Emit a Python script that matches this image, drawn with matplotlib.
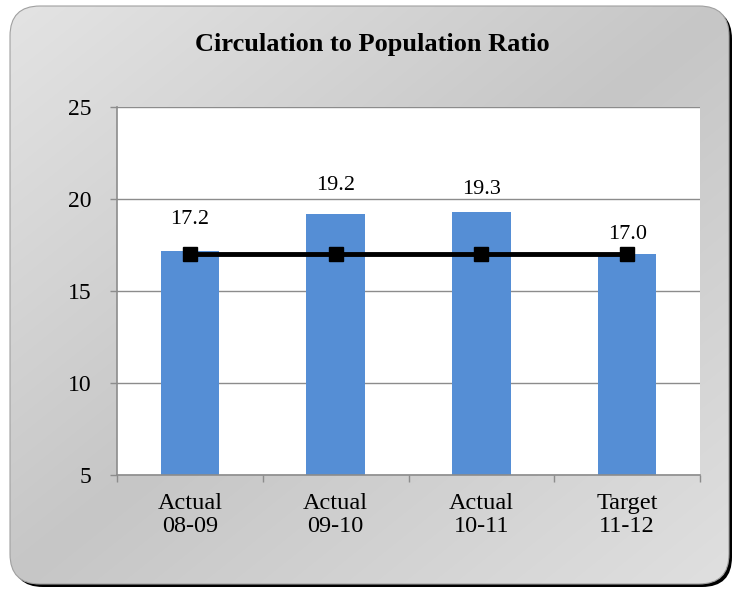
import numpy as np
import matplotlib
matplotlib.use("Agg")
import matplotlib.pyplot as plt
from matplotlib.patches import FancyBboxPatch
from matplotlib.colors import LinearSegmentedColormap

categories = ["Actual\n08-09", "Actual\n09-10", "Actual\n10-11", "Target\n11-12"]
values = [17.2, 19.2, 19.3, 17.0]
target = [17.0, 17.0, 17.0, 17.0]
yticks = [5, 10, 15, 20, 25]
title = "Circulation to Population Ratio"

# label offsets above bar tops (pixels) - styling only
label_offsets_px = [31, 28, 22, 20]

W, H = 736, 589
fig = plt.figure(figsize=(W / 100, H / 100), dpi=100)
plt.rcParams['font.family'] = ['Liberation Serif', 'DejaVu Serif']

# background frame
bg = fig.add_axes([0, 0, 1, 1])
bg.set_xlim(0, W)
bg.set_ylim(H, 0)
bg.axis('off')
x0, y0, x1, y1 = 10, 6, 729, 584
r = 30
shadow = FancyBboxPatch((x0 + r + 3, y0 + r + 3), (x1 - x0) - 2 * r, (y1 - y0) - 2 * r,
                        boxstyle=f"round,pad={r}", fc='black', ec='none', zorder=1)
bg.add_patch(shadow)
frame = FancyBboxPatch((x0 + r, y0 + r), (x1 - x0) - 2 * r, (y1 - y0) - 2 * r,
                       boxstyle=f"round,pad={r}", fc='none', ec='#a0a0a0', lw=0.8, zorder=3)
bg.add_patch(frame)
yy, xx = np.mgrid[0:H, 0:W]
t = (xx / W + yy / H) / 2.0
cmap = LinearSegmentedColormap.from_list('g', ['#e4e4e4', '#c6c6c6', '#e0e0e0'])
im = bg.imshow(t, cmap=cmap, extent=(0, W, H, 0), zorder=2, aspect='auto')
im.set_clip_path(frame)
bg.text(372, 44, title, ha='center', va='center', fontsize=19, fontweight='bold', zorder=5)

# main axes
ax = fig.add_axes([117 / W, 1 - 475 / H, (700 - 117) / W, (475 - 107) / H])
ax.set_facecolor('white')
x = np.arange(len(categories))
ax.bar(x, values, width=0.4, color='#558ED5', zorder=2)
ax.plot(x, target, color='black', lw=3.5, marker='s', markersize=10.5, zorder=3)
ax.set_ylim(5, 25)
ax.set_xlim(-0.5, len(categories) - 0.5)
ax.set_yticks(yticks)
ax.set_yticklabels([str(v) for v in yticks], fontsize=17)
ax.yaxis.grid(True, color='#8c8c8c', lw=1)
ax.set_axisbelow(True)
ax.set_xticks(x)
ax.set_xticklabels(categories, fontsize=17.5, linespacing=1.15)
ax.set_xticks(np.arange(-0.5, len(categories), 1), minor=True)
ax.tick_params(axis='x', which='major', length=0, pad=13)
ax.tick_params(axis='x', which='minor', length=5, color='#8c8c8c', width=1)
ax.tick_params(axis='y', length=5, color='#8c8c8c', width=1, pad=13.5)
for s in ['top', 'right']:
    ax.spines[s].set_visible(False)
for s in ['left', 'bottom']:
    ax.spines[s].set_color('#8c8c8c')
    ax.spines[s].set_linewidth(1.2)
for xi, v, off in zip(x, values, label_offsets_px):
    ax.annotate(f"{v:.1f}", (xi, v), xytext=(0, off * 0.72), textcoords='offset points',
                ha='center', va='center', fontsize=16)

fig.savefig('out.png', dpi=100)
